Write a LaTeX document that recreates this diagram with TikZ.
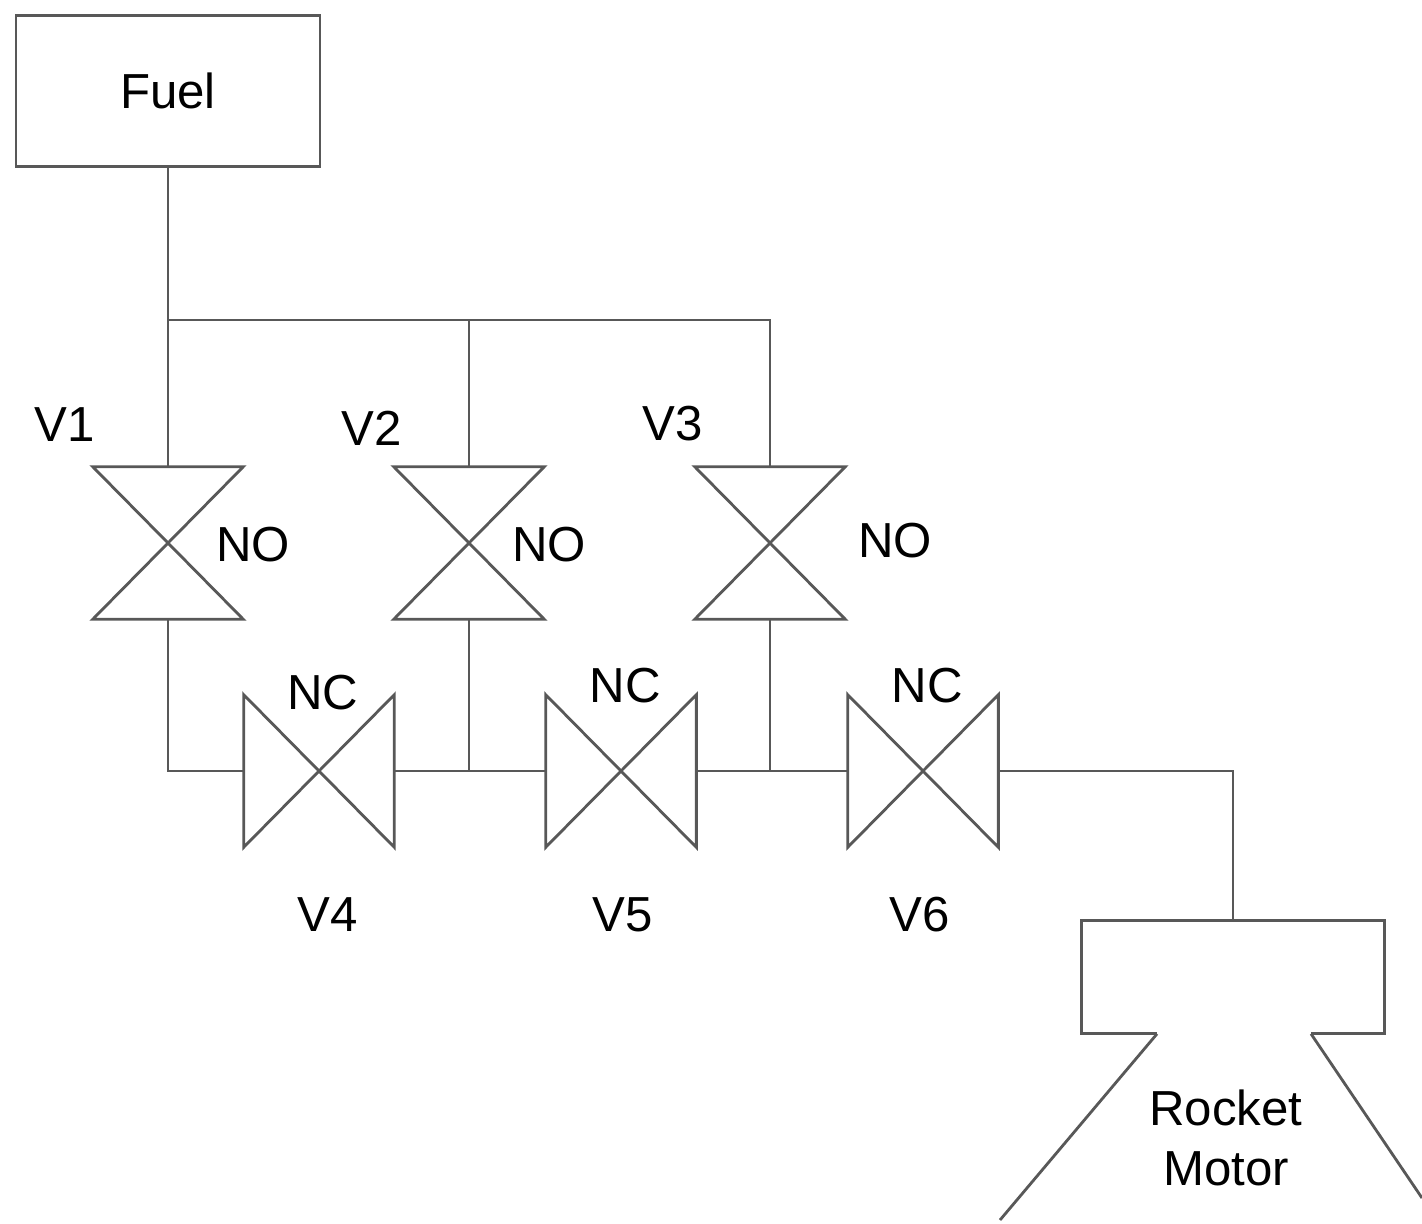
\documentclass[tikz,border=0pt]{standalone}
\usepackage{fontspec}
\setmainfont{Liberation Sans}
\definecolor{pipecol}{RGB}{88,88,88}

\begin{document}
\begin{tikzpicture}[x=0.02cm,y=-0.02cm,
	pipe/.style={draw=pipecol,line width=1.6pt},
	valve/.style={minimum width=3cm,minimum height=3.04cm,inner sep=0pt},
	tag/.style={font=\fontsize{28}{34}\selectfont,inner sep=0pt}]
	\useasboundingbox (0,0) rectangle (1422,1223);
	\node[pipe,tag,minimum width=6.08cm,minimum height=3.02cm] (fuel) at (168,91) {Fuel};
	% normally open valves
	\node[valve] (v1) at (168,543) {};
	\node[valve] (v2) at (469,543) {};
	\node[valve] (v3) at (770,543) {};
	% normally closed valves
	\node[valve] (v4) at (319,771) {};
	\node[valve] (v5) at (621,771) {};
	\node[valve] (v6) at (923,771) {};
	\foreach \v in {v1,v2,v3}
	\draw[pipe] (\v.north west) -- (\v.north east) -- (\v.south west) -- (\v.south east) -- cycle;
	\foreach \v in {v4,v5,v6}
	\draw[pipe] (\v.north west) -- (\v.south west) -- (\v.north east) -- (\v.south east) -- cycle;
	% labels
	\node[tag] (l1) at (65,425) {V1};
	\node[tag] (l2) at (372,428) {V2};
	\node[tag] (l3) at (673,424) {V3};
	\node[tag] (no1) at (253,545) {NO};
	\node[tag] (no2) at (549,545) {NO};
	\node[tag] (no3) at (895,541) {NO};
	\node[tag] (nc4) at (323,693) {NC};
	\node[tag] (nc5) at (625,686) {NC};
	\node[tag] (nc6) at (927,686) {NC};
	\node[tag] (l4) at (328,915) {V4};
	\node[tag] (l5) at (623,915) {V5};
	\node[tag] (l6) at (920,915) {V6};
	% rocket motor
	\node[minimum width=6.04cm,minimum height=2.26cm,inner sep=0pt] (motor) at (1233,977) {};
	\coordinate (nl) at (1157,977 |- motor.south);
	\coordinate (nr) at (1311,977 |- motor.south);
	\coordinate (el) at (1000,1220);
	\coordinate (er) at (1422,1198);
	\draw[pipe] (nl) -- (motor.south west) -- (motor.north west) -- (motor.north east) -- (motor.south east) -- (nr);
	\draw[pipe] (nl) -- (el);
	\draw[pipe] (nr) -- (er);
	\node[tag,align=center] (rm) at (1226,1138) {Rocket\\Motor};
	% pipes
	\coordinate (hdr) at (168,320);
	\draw[pipe] (fuel.south) -- (v1.north);
	\draw[pipe] (hdr) -- (hdr -| v3.north) -- (v3.north);
	\draw[pipe] (hdr -| v2.north) -- (v2.north);
	\draw[pipe] (v1.south) |- (v4.west);
	\draw[pipe] (v4.east) -- (v5.west);
	\draw[pipe] (v2.south) -- (v2.south |- v5.west);
	\draw[pipe] (v5.east) -- (v6.west);
	\draw[pipe] (v3.south) -- (v3.south |- v6.west);
	\draw[pipe] (v6.east) -| (motor.north);
\end{tikzpicture}
\end{document}
